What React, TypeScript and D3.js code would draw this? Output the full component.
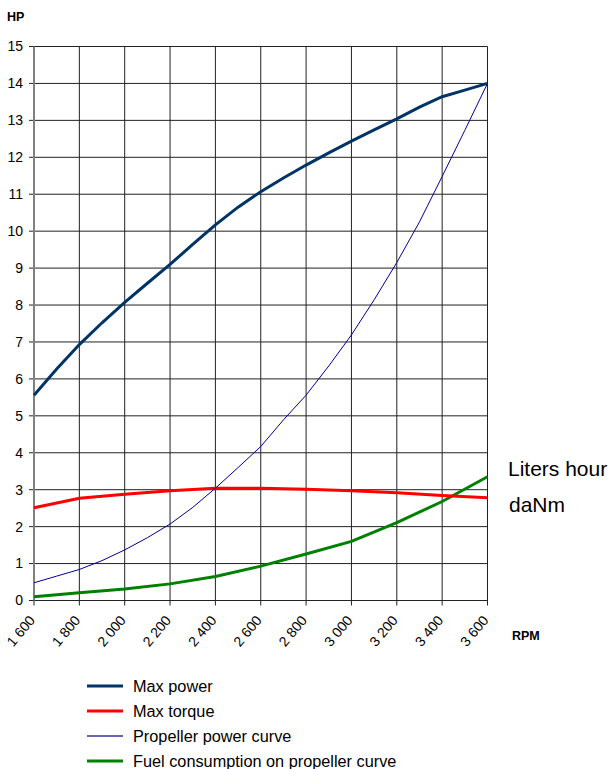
import React from 'react';
import * as d3 from 'd3';

const rpm100 = [1600, 1700, 1800, 1900, 2000, 2100, 2200, 2300, 2400, 2500, 2600, 2700, 2800, 2900, 3000, 3100, 3200, 3300, 3400, 3500, 3600];
const maxPower = [5.56, 6.27, 6.93, 7.52, 8.07, 8.59, 9.1, 9.64, 10.17, 10.65, 11.07, 11.44, 11.79, 12.12, 12.44, 12.74, 13.04, 13.36, 13.64, 13.82, 14.0];
const propeller = [0.48, 0.66, 0.84, 1.08, 1.37, 1.7, 2.07, 2.52, 3.04, 3.6, 4.17, 4.89, 5.56, 6.35, 7.19, 8.14, 9.15, 10.25, 11.48, 12.73, 14.0];

const rpm200 = [1600, 1800, 2000, 2200, 2400, 2600, 2800, 3000, 3200, 3400, 3600];
const maxTorque = [2.51, 2.77, 2.88, 2.97, 3.04, 3.04, 3.01, 2.97, 2.92, 2.84, 2.78];
const fuel = [0.1, 0.21, 0.31, 0.45, 0.65, 0.93, 1.26, 1.6, 2.11, 2.68, 3.35];

const xTicks = rpm200;
const yTicks = d3.range(0, 16);
const xTickLabel = (v: number) => `${Math.floor(v / 1000)} ${String(v % 1000).padStart(3, '0')}`;

const legendItems = [
  { name: 'Max power', color: '#003366', width: 3 },
  { name: 'Max torque', color: '#ff0000', width: 3 },
  { name: 'Propeller power curve', color: '#333399', width: 1.5 },
  { name: 'Fuel consumption on propeller curve', color: '#008000', width: 3 },
];

const W = 611;
const H = 769;
const font = "Arial, 'Liberation Sans', sans-serif";

export default function App() {
  const x = d3.scaleLinear().domain([1600, 3600]).range([34, 487.5]);
  const y = d3.scaleLinear().domain([0, 15]).range([600.5, 46.5]);

  const line = (xs: number[], ys: number[]) =>
    d3
      .line<number>()
      .x((_, i) => x(xs[i]))
      .y((d) => y(d))(ys) ?? '';

  return (
    <div style={{ position: 'absolute', left: 0, top: 0 }}>
      <svg width={W} height={H} style={{ display: 'block', background: '#fff' }} fontFamily={font}>
        {/* grid */}
        {yTicks.map((t) => (
          <line key={'h' + t} x1={x(1600)} x2={x(3600)} y1={y(t)} y2={y(t)} stroke="#222" strokeWidth={1} />
        ))}
        {xTicks.map((t) => (
          <line key={'v' + t} x1={x(t)} x2={x(t)} y1={y(15)} y2={y(0) + 5} stroke="#222" strokeWidth={1} />
        ))}
        {/* y ticks */}
        {yTicks.map((t) => (
          <g key={'yt' + t}>
            <line x1={x(1600) - 5} x2={x(1600)} y1={y(t)} y2={y(t)} stroke="#222" />
            <text x={23} y={y(t)} dy="0.35em" textAnchor="end" fontSize={14} fill="#000">
              {t}
            </text>
          </g>
        ))}
        <line x1={x(1600)} x2={x(1600)} y1={y(15)} y2={y(0)} stroke="#808080" strokeWidth={2} />
        {/* x labels */}
        {xTicks.map((t) => (
          <text
            key={'xl' + t}
            transform={`translate(${x(t) - 2},${y(0) + 17}) rotate(-50)`}
            textAnchor="end"
            dy="0.35em"
            fontSize={14}
            fill="#000"
          >
            {xTickLabel(t)}
          </text>
        ))}
        <text x={7} y={21} fontSize={12.5} fontWeight="bold">HP</text>
        <text x={512} y={640} fontSize={12.5} fontWeight="bold">RPM</text>
        <text x={508} y={476} fontSize={21}>Liters hour</text>
        <text x={509} y={511.5} fontSize={21}>daNm</text>

        {/* series */}
        <path d={line(rpm200, fuel)} fill="none" stroke="#008000" strokeWidth={3} />
        <path d={line(rpm200, maxTorque)} fill="none" stroke="#ff0000" strokeWidth={3} />
        <path d={line(rpm100, propeller)} fill="none" stroke="#000099" strokeWidth={1} />
        <path d={line(rpm100, maxPower)} fill="none" stroke="#003366" strokeWidth={3} />

        {/* legend */}
        {legendItems.map((d, i) => (
          <g key={d.name} transform={`translate(0,${686 + i * 25})`}>
            <line x1={87} x2={123} y1={0} y2={0} stroke={d.color} strokeWidth={d.width} />
            <text x={133} y={0} dy="0.35em" fontSize={16.3} fill="#000">
              {d.name}
            </text>
          </g>
        ))}
      </svg>
    </div>
  );
}
